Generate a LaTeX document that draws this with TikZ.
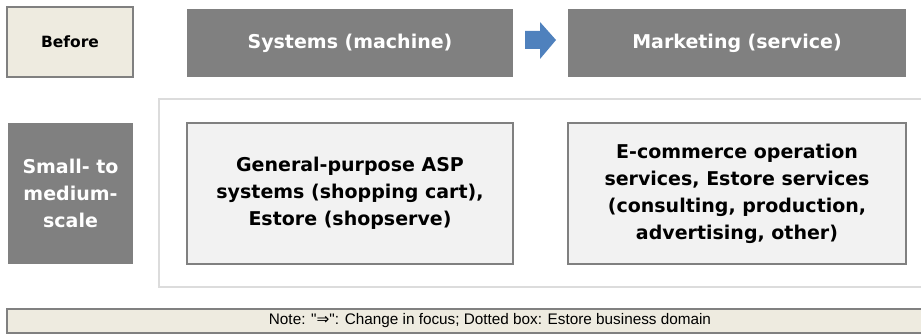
\documentclass[tikz,border=0pt]{standalone}
\usepackage{fontspec}
\setmainfont{DejaVu Sans}
\newfontfamily\notefont{Liberation Sans}
\newfontfamily\symfont{DejaVu Sans}
\definecolor{beige}{HTML}{EEEBE0}
\definecolor{midgray}{HTML}{808080}
\definecolor{lightfill}{HTML}{F2F2F2}
\definecolor{framegray}{HTML}{DCDCDC}
\definecolor{arrowblue}{HTML}{4F81BD}
\begin{document}
\begin{tikzpicture}[x=1pt,y=-1pt,
  bigtext/.style={font=\fontsize{19}{27}\selectfont\bfseries, align=center},
  labelbox/.style={draw=midgray, line width=1.5pt, fill=beige, inner sep=0pt},
  headbox/.style={fill=midgray, text=white, inner sep=0pt, bigtext},
  itembox/.style={draw=midgray, line width=1.5pt, fill=lightfill, inner sep=0pt, bigtext},
  notebar/.style={draw=midgray, line width=2pt, fill=beige, inner sep=0pt}]
\useasboundingbox (0,0) rectangle (921,336);
\clip (0,0) rectangle (921,336);
% header row
\node[labelbox, minimum width=126pt, minimum height=70pt,
      font=\fontsize{15.5}{18}\selectfont\bfseries] (before) at (70,42) {Before};
\node[headbox, minimum width=326pt, minimum height=68pt] (systems) at (350,43) {Systems (machine)};
\node[headbox, minimum width=338pt, minimum height=68pt] (marketing) at (737,43) {Marketing (service)};
% block arrow between header boxes
\coordinate (ar) at (525,40);
\fill[arrowblue] (ar) ++(0,-9) -- ++(15,0) -- ++(0,-9) -- ++(16,18) -- ++(-16,19) -- ++(0,-10) -- ++(-15,0) -- cycle;
% dotted (domain) frame, open to the right
\coordinate (fr1) at (930,99);
\coordinate (fr2) at (159,99);
\coordinate (fr3) at (159,287);
\coordinate (fr4) at (930,287);
\draw[framegray, line width=2pt] (fr1) -- (fr2) -- (fr3) -- (fr4);
% second row
\node[headbox, minimum width=125pt, minimum height=141pt] (scale) at (70.5,193.5)
  {Small- to\\medium-\\scale};
\node[itembox, minimum width=326pt, minimum height=141pt] (general) at (350,193.5)
  {General-purpose ASP\\systems (shopping cart),\\Estore (shopserve)};
\node[itembox, minimum width=338pt, minimum height=141pt] (ecom) at (737,193.5)
  {E-commerce operation\\services, Estore services\\(consulting, production,\\advertising, other)};
% note bar
\node[notebar, minimum width=930pt, minimum height=24pt] (notebox) at (472,321) {};
\node[font=\notefont\fontsize{15.3}{17}\selectfont, inner sep=0pt] (note) at (490,321)
  {Note: "{\symfont ⇒}": Change in focus; Dotted box: Estore business domain};
\end{tikzpicture}
\end{document}
